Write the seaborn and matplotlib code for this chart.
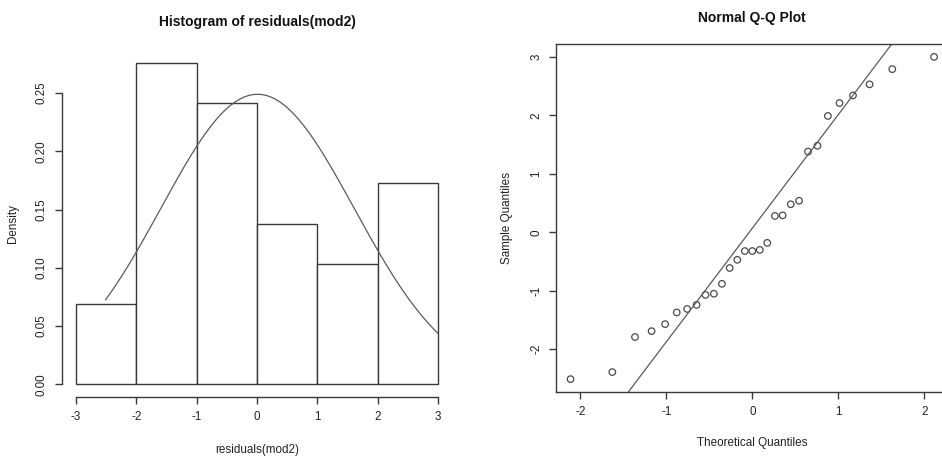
import numpy as np
import pandas as pd
import matplotlib
matplotlib.use("Agg")
import matplotlib.pyplot as plt
import seaborn as sns

# ---- data ----
sample_quantiles = [-2.51, -2.39, -1.79, -1.69, -1.57, -1.37, -1.31, -1.24, -1.07, -1.05,
                    -0.88, -0.61, -0.47, -0.32, -0.32, -0.30, -0.18, 0.28, 0.29, 0.48,
                    0.54, 1.38, 1.48, 1.99, 2.21, 2.34, 2.53, 2.79, 3.00]
theoretical_quantiles = [-2.114, -1.628, -1.364, -1.171, -1.014, -0.879, -0.758, -0.648,
                         -0.544, -0.447, -0.353, -0.263, -0.174, -0.087, 0.000, 0.087,
                         0.174, 0.263, 0.353, 0.447, 0.544, 0.648, 0.758, 0.879, 1.014,
                         1.171, 1.364, 1.628, 2.114]
bin_edges = [-3, -2, -1, 0, 1, 2, 3]
hist_xticks = [-3, -2, -1, 0, 1, 2, 3]
hist_yticks = [0.00, 0.05, 0.10, 0.15, 0.20, 0.25]
hist_yticklabels = ["0.00", "0.05", "0.10", "0.15", "0.20", "0.25"]
qq_xticks = [-2, -1, 0, 1, 2]
qq_yticks = [-2, -1, 0, 1, 2, 3]

df = pd.DataFrame({"residuals": sample_quantiles, "theoretical": theoretical_quantiles})

sns.set_theme(style="white")
plt.rcParams["font.family"] = ["Liberation Sans", "DejaVu Sans"]

INK = "#3a3a3a"
W, H = 942, 457
fig = plt.figure(figsize=(W / 100, H / 100), dpi=100)

def frac(x0, y0, x1, y1):
    return [x0 / W, 1 - y1 / H, (x1 - x0) / W, (y1 - y0) / H]

# ---- left: histogram ----
ax1 = fig.add_axes(frac(61.5, 50, 452.5, 397))
sns.histplot(data=df, x="residuals", bins=bin_edges, stat="density", ax=ax1,
             color="white", edgecolor=INK, linewidth=1.0, alpha=1.0)
res = np.asarray(sample_quantiles)
mu, sd = res.mean(), res.std(ddof=1)
xs = np.linspace(res.min(), res.max(), 200)
dens = np.exp(-0.5 * ((xs - mu) / sd) ** 2) / (sd * np.sqrt(2 * np.pi))
sns.lineplot(x=xs, y=dens, ax=ax1, color="#5a5a5a", linewidth=0.9)
ax1.set_xlim(-3.24, 3.24)
ax1.set_ylim(-0.011, 0.287)
ax1.set_xticks(hist_xticks)
ax1.set_xticklabels([str(t) for t in hist_xticks])
ax1.set_yticks(hist_yticks)
ax1.set_yticklabels(hist_yticklabels, rotation=90, va="center")
for s in ["top", "right"]:
    ax1.spines[s].set_visible(False)
ax1.spines["left"].set_bounds(0, 0.25)
ax1.spines["bottom"].set_bounds(-3, 3)
ax1.set_title("Histogram of residuals(mod2)", fontsize=10, fontweight="bold", pad=17, color="#111111")
ax1.set_xlabel("residuals(mod2)", fontsize=8.4, labelpad=15, color="#222222")
ax1.set_ylabel("Density", fontsize=8.4, labelpad=12, color="#222222")

# ---- right: normal Q-Q ----
ax2 = fig.add_axes(frac(556, 44, 948.6, 392))
sns.scatterplot(data=df, x="theoretical", y="residuals", ax=ax2, marker="o",
                s=22, facecolors="none", edgecolors="#4a4a4a", linewidth=0.9)
q1, q3 = np.quantile(res, [0.25, 0.75])
z = 0.6744898
slope = (q3 - q1) / (2 * z)
intercept = q1 + z * slope
ax2.axline((0, intercept), slope=slope, color="#5a5a5a", linewidth=0.9)
ax2.set_xlim(-2.283, 2.283)
ax2.set_ylim(-2.73, 3.22)
ax2.set_xticks(qq_xticks)
ax2.set_xticklabels([str(t) for t in qq_xticks])
ax2.set_yticks(qq_yticks)
ax2.set_yticklabels([str(t) for t in qq_yticks], rotation=90, va="center")
ax2.set_title("Normal Q-Q Plot", fontsize=10, fontweight="bold", pad=16, color="#111111")
ax2.set_xlabel("Theoretical Quantiles", fontsize=8.4, labelpad=14, color="#222222")
ax2.set_ylabel("Sample Quantiles", fontsize=8.4, labelpad=12, color="#222222")
for s in ax2.spines.values():
    s.set_color(INK)
    s.set_linewidth(1.0)

for ax in (ax1, ax2):
    for s in ["left", "bottom"]:
        ax.spines[s].set_color(INK)
        ax.spines[s].set_linewidth(1.0)
    ax.tick_params(axis="both", which="major", direction="out", length=5, width=1.0,
                   color=INK, labelsize=8.4, labelcolor="#222222", pad=5,
                   bottom=True, left=True)
    ax.grid(False)

fig.savefig("out.png", dpi=100)
